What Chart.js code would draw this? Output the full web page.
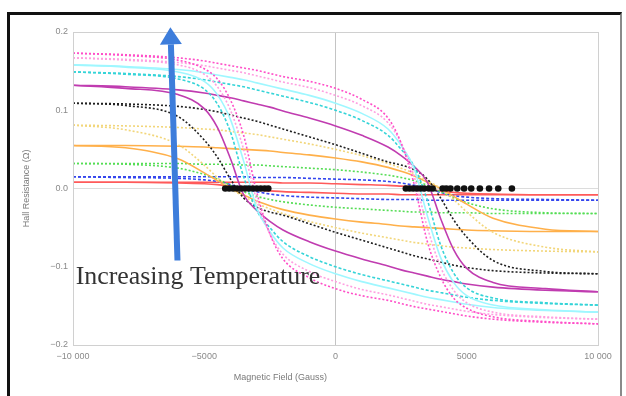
<!DOCTYPE html>
<html><head><meta charset="utf-8">
<script src="https://cdn.jsdelivr.net/npm/chart.js@4.4.0/dist/chart.umd.min.js"></script>
<style>
html,body{margin:0;padding:0;background:#fff;}
#wrap{position:relative;width:626px;height:396px;overflow:hidden;background:#fff;}
#c{position:absolute;left:0;top:0;}
#frame{position:absolute;left:7px;top:12px;width:610px;height:400px;border-top:3px solid #111;border-left:3px solid #111;border-right:2px solid #8a8a8a;pointer-events:none;}
</style></head><body>
<div id="wrap"><canvas id="c" width="626" height="396"></canvas><div id="frame"></div></div>
<script>
// Magnetic field grid (Gauss)
const fields = [-10000,-8000,-6000,-5000,-4500,-4000,-3500,-3000,-2500,-2000,-1000,0,1000,2000,2500,3000,3500,4000,4500,5000,6000,8000,10000];

// Loop names / colours (outermost to innermost)
const loopNames = ['T1','T2','T3','T4','T5','T6','T7','T8','T9','T10','T11'];

// Upper branches (sweep from -H to +H)
const up1 = [0.173,0.171,0.167,0.163,0.160,0.157,0.154,0.151,0.147,0.143,0.137,0.128,0.114,0.090,0.058,0.005,-0.068,-0.113,-0.140,-0.153,-0.164,-0.170,-0.173];
const up2 = [0.167,0.165,0.161,0.157,0.154,0.151,0.148,0.144,0.140,0.136,0.129,0.119,0.106,0.084,0.058,0.015,-0.050,-0.100,-0.130,-0.146,-0.158,-0.164,-0.167];
const up3 = [0.158,0.156,0.152,0.148,0.145,0.142,0.139,0.135,0.131,0.127,0.119,0.109,0.096,0.076,0.055,0.025,-0.035,-0.088,-0.120,-0.137,-0.149,-0.155,-0.158];
const up4 = [0.149,0.147,0.143,0.139,0.136,0.133,0.130,0.126,0.122,0.118,0.110,0.100,0.087,0.068,0.050,0.028,-0.015,-0.072,-0.108,-0.127,-0.140,-0.146,-0.149];
const up5 = [0.132,0.130,0.126,0.122,0.119,0.116,0.112,0.108,0.104,0.099,0.090,0.080,0.068,0.053,0.042,0.028,0.008,-0.038,-0.078,-0.102,-0.120,-0.128,-0.132];
const up6 = [0.109,0.108,0.105,0.101,0.098,0.094,0.090,0.086,0.081,0.076,0.066,0.056,0.045,0.034,0.030,0.024,0.012,-0.012,-0.040,-0.062,-0.092,-0.106,-0.109];
const up7 = [0.081,0.080,0.078,0.076,0.075,0.073,0.071,0.069,0.066,0.063,0.057,0.050,0.042,0.032,0.026,0.019,0.010,0.000,-0.014,-0.030,-0.056,-0.075,-0.081];
const up8 = [0.055,0.055,0.054,0.053,0.052,0.051,0.050,0.049,0.048,0.046,0.043,0.039,0.034,0.027,0.022,0.016,0.008,0.000,-0.010,-0.020,-0.038,-0.052,-0.055];
const up9 = [0.032,0.032,0.032,0.031,0.031,0.031,0.030,0.030,0.029,0.028,0.026,0.024,0.021,0.017,0.014,0.010,0.004,-0.004,-0.012,-0.018,-0.026,-0.031,-0.032];
const up10 = [0.015,0.015,0.015,0.015,0.015,0.015,0.015,0.014,0.014,0.014,0.013,0.012,0.011,0.009,0.007,0.004,0.000,-0.005,-0.009,-0.011,-0.013,-0.014,-0.015];
const up11 = [0.008,0.008,0.008,0.008,0.008,0.008,0.008,0.008,0.008,0.007,0.007,0.006,0.005,0.004,0.003,0.002,0.000,-0.003,-0.005,-0.006,-0.007,-0.008,-0.008];

// Lower branches (sweep from +H to -H)
const dn1 = [0.173,0.170,0.164,0.153,0.140,0.113,0.068,-0.005,-0.058,-0.090,-0.114,-0.128,-0.137,-0.143,-0.147,-0.151,-0.154,-0.157,-0.160,-0.163,-0.167,-0.171,-0.173];
const dn2 = [0.167,0.164,0.158,0.146,0.130,0.100,0.050,-0.015,-0.058,-0.084,-0.106,-0.119,-0.129,-0.136,-0.140,-0.144,-0.148,-0.151,-0.154,-0.157,-0.161,-0.165,-0.167];
const dn3 = [0.158,0.155,0.149,0.137,0.120,0.088,0.035,-0.025,-0.055,-0.076,-0.096,-0.109,-0.119,-0.127,-0.131,-0.135,-0.139,-0.142,-0.145,-0.148,-0.152,-0.156,-0.158];
const dn4 = [0.149,0.146,0.140,0.127,0.108,0.072,0.015,-0.028,-0.050,-0.068,-0.087,-0.100,-0.110,-0.118,-0.122,-0.126,-0.130,-0.133,-0.136,-0.139,-0.143,-0.147,-0.149];
const dn5 = [0.132,0.128,0.120,0.102,0.078,0.038,-0.008,-0.028,-0.042,-0.053,-0.068,-0.080,-0.090,-0.099,-0.104,-0.108,-0.112,-0.116,-0.119,-0.122,-0.126,-0.130,-0.132];
const dn6 = [0.109,0.106,0.092,0.062,0.040,0.012,-0.012,-0.024,-0.030,-0.034,-0.045,-0.056,-0.066,-0.076,-0.081,-0.086,-0.090,-0.094,-0.098,-0.101,-0.105,-0.108,-0.109];
const dn7 = [0.081,0.075,0.056,0.030,0.014,0.000,-0.010,-0.019,-0.026,-0.032,-0.042,-0.050,-0.057,-0.063,-0.066,-0.069,-0.071,-0.073,-0.075,-0.076,-0.078,-0.080,-0.081];
const dn8 = [0.055,0.052,0.038,0.020,0.010,0.000,-0.008,-0.016,-0.022,-0.027,-0.034,-0.039,-0.043,-0.046,-0.048,-0.049,-0.050,-0.051,-0.052,-0.053,-0.054,-0.055,-0.055];
const dn9 = [0.032,0.031,0.026,0.018,0.012,0.004,-0.004,-0.010,-0.014,-0.017,-0.021,-0.024,-0.026,-0.028,-0.029,-0.030,-0.030,-0.031,-0.031,-0.031,-0.032,-0.032,-0.032];
const dn10 = [0.015,0.014,0.013,0.011,0.009,0.005,0.000,-0.004,-0.007,-0.009,-0.011,-0.012,-0.013,-0.014,-0.014,-0.014,-0.015,-0.015,-0.015,-0.015,-0.015,-0.015,-0.015];
const dn11 = [0.008,0.008,0.007,0.006,0.005,0.003,0.000,-0.002,-0.003,-0.004,-0.005,-0.006,-0.007,-0.007,-0.008,-0.008,-0.008,-0.008,-0.008,-0.008,-0.008,-0.008,-0.008];

// Zero-crossing markers (Gauss, at 0 Ω)
const zeroFields = [-4200,-4050,-3900,-3750,-3600,-3450,-3300,-3150,-3000,-2850,-2700,-2560,
  2680,2820,2960,3100,3240,3380,3560,3700,4080,4220,4380,4640,4900,5170,5500,5850,6200,6720];
const zeroValues = zeroFields.map(()=>0);

// Axis tick labels
const xTickValues = [-10000,-5000,0,5000,10000];
const xTickLabels = ['\u221210 000','\u22125000','0','5000','10 000'];
const yTickValues = [-0.2,-0.1,0,0.1,0.2];
const yTickLabels = ['\u22120.2','\u22120.1','0.0','0.1','0.2'];

const ups = [up1,up2,up3,up4,up5,up6,up7,up8,up9,up10,up11];
const dns = [dn1,dn2,dn3,dn4,dn5,dn6,dn7,dn8,dn9,dn10,dn11];
const colors = ['#ff4fc8','#ff9fe0','#9ff7ff','#35d4d8','#c03cb0','#202020','#f2d67a','#ffb04a','#55dd55','#3446ee','#ff5a5a'];
const dashes = [[2,2],[2,2],[],[3,2],[],[2,2],[2,2],[],[2,2],[3,2],[]];

const datasets = [];
datasets.push({label:'zero', data: zeroFields.map((x,i)=>({x, y: zeroValues[i]})), showLine:false,
  pointRadius:3.3, pointBackgroundColor:'#111', pointBorderColor:'#111', pointBorderWidth:0});
ups.forEach((u,k)=>{
  [u, dns[k]].forEach(arr=>{
    datasets.push({label: loopNames[k], data: fields.map((x,i)=>({x, y: arr[i]})), showLine:true,
      borderColor: colors[k], borderWidth: 1.6, borderDash: dashes[k], pointRadius:0,
      cubicInterpolationMode:'monotone', fill:false});
  });
});

const annot = {
  id:'annot',
  afterDatasetsDraw(chart){
    const ctx = chart.ctx, xs = chart.scales.x, ys = chart.scales.y, a = chart.chartArea;
    ctx.save();
    // frame lines of plot area
    ctx.strokeStyle = '#d0d0d0'; ctx.lineWidth = 1;
    ctx.strokeRect(a.left+0.5, a.top+0.5, a.right-a.left, a.bottom-a.top);
    // arrow
    const bx = xs.getPixelForValue(-6020), by = ys.getPixelForValue(-0.092);
    const tx = xs.getPixelForValue(-6290), ty = ys.getPixelForValue(0.206);
    const ang = Math.atan2(ty-by, tx-bx);
    const headL = 17, headW = 11;
    const hx = tx - headL*Math.cos(ang), hy = ty - headL*Math.sin(ang);
    ctx.strokeStyle = '#3d7ddb'; ctx.fillStyle = '#3d7ddb'; ctx.lineWidth = 6; ctx.lineCap='butt';
    ctx.beginPath(); ctx.moveTo(bx,by); ctx.lineTo(hx,hy); ctx.stroke();
    const px = -Math.sin(ang), py = Math.cos(ang);
    ctx.beginPath(); ctx.moveTo(tx,ty); ctx.lineTo(hx+px*headW, hy+py*headW); ctx.lineTo(hx-px*headW, hy-py*headW); ctx.closePath(); ctx.fill();
    // text
    const txt = 'Increasing Temperature';
    let fs = 26; ctx.font = fs+'px "Liberation Serif", "DejaVu Serif", serif';
    const w = ctx.measureText(txt).width; fs = fs*245/w;
    ctx.font = fs.toFixed(1)+'px "Liberation Serif", "DejaVu Serif", serif';
    ctx.fillStyle = '#333'; ctx.textBaseline = 'alphabetic'; ctx.textAlign='left';
    ctx.fillText(txt, xs.getPixelForValue(-9900), ys.getPixelForValue(-0.1225));
    // axis titles
    ctx.fillStyle = '#7a7a7a'; ctx.font = '9px "Liberation Sans", Arial, sans-serif';
    ctx.textAlign='center'; ctx.textBaseline='middle';
    ctx.fillText('Magnetic Field (Gauss)', a.left + (a.right-a.left)*0.395, 378);
    ctx.translate(27, (a.top+a.bottom)/2); ctx.rotate(-Math.PI/2);
    ctx.fillText('Hall Resistance (\u03A9)', 0, 0);
    ctx.restore();
  }
};

new Chart(document.getElementById('c'), {
  type:'scatter',
  data:{datasets},
  options:{
    responsive:false, animation:false, devicePixelRatio:1,
    layout:{padding:{left:0,right:28,top:32,bottom:0}},
    plugins:{legend:{display:false}, tooltip:{enabled:false}},
    scales:{
      x:{type:'linear', min:-10000, max:10000,
        afterBuildTicks(s){ s.ticks = xTickValues.map(v=>({value:v})); },
        afterFit(s){ s.height = 51; },
        ticks:{padding:6, color:'#8a8a8a', font:{size:9, family:'"Liberation Sans", Arial, sans-serif'},
          maxRotation:0, autoSkip:false,
          callback:(v)=>{ const i = xTickValues.indexOf(v); return i>=0 ? xTickLabels[i] : ''; }},
        grid:{drawTicks:false, color:(c)=> c.tick && c.tick.value===0 ? '#c4c4c4' : 'rgba(0,0,0,0)'},
        border:{display:false}
      },
      y:{type:'linear', min:-0.2, max:0.2,
        afterBuildTicks(s){ s.ticks = yTickValues.map(v=>({value:v})); },
        afterFit(s){ s.width = 73; },
        ticks:{padding:5, color:'#8a8a8a', font:{size:9, family:'"Liberation Sans", Arial, sans-serif'},
          autoSkip:false,
          callback:(v)=>{ const i = yTickValues.findIndex(t=>Math.abs(t-v)<1e-9); return i>=0 ? yTickLabels[i] : ''; }},
        grid:{drawTicks:false, color:(c)=> c.tick && Math.abs(c.tick.value)<1e-9 ? '#dcdcdc' : 'rgba(0,0,0,0)'},
        border:{display:false}
      }
    }
  },
  plugins:[annot]
});
</script>
</body></html>
